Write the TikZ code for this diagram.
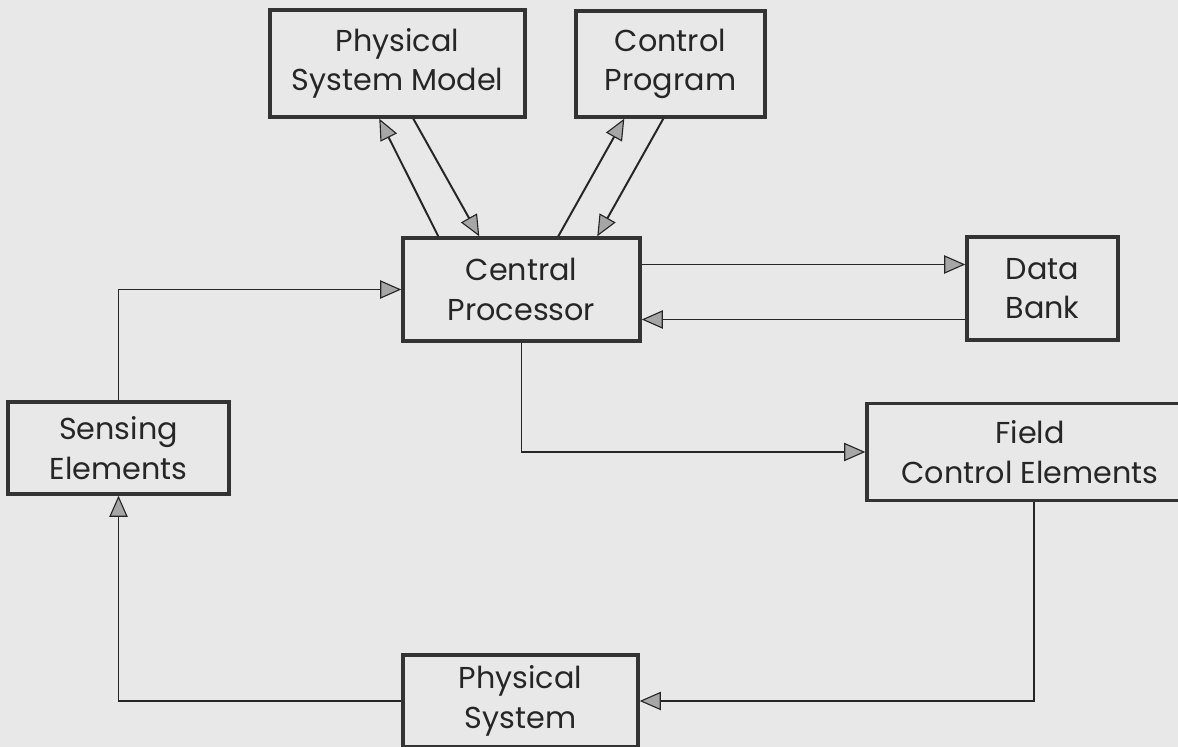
\documentclass[tikz,border=0pt]{standalone}
\usepackage{fontspec}
\newfontfamily\lettering{Poppins}
\usetikzlibrary{arrows.meta,calc,positioning}
\tikzstyle{block} = [draw=black!80,line width=2.4pt,align=center,inner sep=0pt,
    font=\lettering\fontsize{21.5}{28}\selectfont,text=black!85]
\tikzstyle{link} = [draw=black!85,line width=1.4pt,
    -{Triangle[length=15pt,width=13pt,fill=black!35,line width=0.8pt]}]

\begin{document}
\begin{tikzpicture}[x=0.025cm,y=-0.025cm]

    \clip (0,0) rectangle (1178,747);
    \fill[black!9] (0,0) rectangle (1178,747);

    \node[block,minimum width=6.375cm,minimum height=2.675cm] (psm)   at (397.5,63.5) {Physical\\System Model};
    \node[block,minimum width=4.725cm,minimum height=2.65cm]  (prog)  at (670.5,64)   {Control\\Program};
    \node[block,minimum width=5.925cm,minimum height=2.575cm] (cp)    at (521.5,289.5) {Central\\Processor};
    \node[block,minimum width=3.775cm,minimum height=2.575cm] (bank)  at (1042.5,288.5) {Data\\Bank};
    \node[block,minimum width=5.525cm,minimum height=2.3cm]   (sense) at (118.5,448)  {Sensing\\Elements};
    \node[block,minimum width=8.15cm,minimum height=2.425cm]  (field) at (1030,452) {Field\\Control Elements};
    \node[block,minimum width=5.875cm,minimum height=2.3cm]   (phys)  at (520.5,701)  {Physical\\System};

    \draw[link] ($(cp.north west)+(37,0)$)  -- ($(psm.south west)+(111,0)$);
    \draw[link] ($(psm.south west)+(145,0)$) -- ($(cp.north west)+(78,0)$);
    \draw[link] ($(cp.north west)+(157,0)$) -- ($(prog.south west)+(50,0)$);
    \draw[link] ($(prog.south west)+(89,0)$) -- ($(cp.north west)+(196,0)$);

    \coordinate (cpout) at ($(cp.east)+(0,-25)$);
    \coordinate (cpin)  at ($(cp.east)+(0,30)$);
    \draw[link] (cpout) -- (cpout -| bank.west);
    \draw[link] (cpin -| bank.west) -- (cpin);

    \draw[link] (sense.north) |- (cp.west);
    \draw[link] (cp.south) |- (field.west);
    \draw[link] ($(field.south)+(4,0)$) |- (phys.east);
    \draw[link] (phys.west) -| (sense.south);

\end{tikzpicture}
\end{document}
